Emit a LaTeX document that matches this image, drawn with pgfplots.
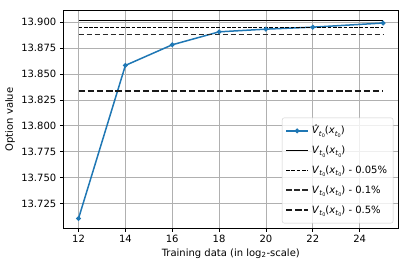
\documentclass[border=0pt]{standalone}
\usepackage{fontspec}
\setmainfont{DejaVu Sans}
\usepackage{pgfplots}
\pgfplotsset{compat=1.18}
\definecolor{mplblue}{HTML}{1F77B4}
\definecolor{gridgray}{HTML}{B0B0B0}
\definecolor{legframe}{HTML}{CCCCCC}
\definecolor{dashgray}{HTML}{2A2A2A}
\newcommand{\tsub}{\raisebox{-0.22em}{\fontsize{7}{7}\selectfont\textit{t}\raisebox{-0.18em}{\fontsize{4.9}{5}\selectfont 0}}}
\newcommand{\Vx}{\textit{V}\tsub(\textit{x}\tsub)}
\newcommand{\Vhx}{\textit{V\symbol{"0302}}\tsub(\textit{x}\tsub)}
\begin{document}
\begin{tikzpicture}
\begin{axis}[
  scale only axis, width=335pt, height=217.6pt,
  xmin=11.35, xmax=25.65, ymin=13.7011, ymax=13.9111,
  xtick={12,14,16,18,20,22,24},
  ytick={13.725,13.75,13.775,13.8,13.825,13.85,13.875,13.9},
  scaled y ticks=false,
  yticklabel style={/pgf/number format/.cd, fixed, fixed zerofill, precision=3},
  /pgf/number format/assume math mode=true,
  tick align=outside, major tick length=3.5pt,
  tick style={black, line width=0.8pt},
  xtick pos=left, ytick pos=left,
  axis line style={line width=0.8pt},
  grid=major, major grid style={gridgray, line width=0.8pt},
  every axis x label/.style={at={(rel axis cs:0.5,0)}, yshift=-25pt, anchor=center},
  every axis y label/.style={at={(rel axis cs:0,0.5)}, xshift=-53.3pt, rotate=90, anchor=center},
  xlabel={Training data (in log\textsubscript{2}-scale)},
  ylabel={Option value},
  legend image code/.code={\draw[mark repeat=2,mark phase=2,#1] plot coordinates {(0pt,0pt)(11pt,0pt)(22pt,0pt)};},
  legend style={at={(0.985,0.023)}, anchor=south east, draw=legframe, rounded corners=2pt,
    fill=white, fill opacity=0.8, text opacity=1, cells={anchor=west},
    nodes={inner xsep=3pt, inner ysep=2pt, text height=10pt, text depth=4pt}, row sep=1.8pt,
    inner xsep=3pt, inner ysep=4pt},
]
\addplot[mplblue, line width=1.5pt, mark=*, mark size=1.6pt] coordinates {
  (12,13.7106) (14,13.8583) (16,13.8782) (18,13.8907) (20,13.8933) (22,13.8952) (25,13.8992)};
\addlegendentry{\Vhx}
\addplot[black, line width=1pt] coordinates {(12,13.9017) (25,13.9017)};
\addlegendentry{\Vx}
\addplot[black, line width=1pt, dash pattern=on 3.7pt off 1.6pt] coordinates {(12,13.8952) (25,13.8952)};
\addlegendentry{\Vx{} - 0.05\%}
\addplot[dashgray, line width=1.8pt, dash pattern=on 5.6pt off 2.4pt] coordinates {(12,13.8881) (25,13.8881)};
\addlegendentry{\Vx{} - 0.1\%}
\addplot[black!90, line width=1.8pt, dash pattern=on 6.4pt off 2.8pt] coordinates {(12,13.8333) (25,13.8333)};
\addlegendentry{\Vx{} - 0.5\%}
\end{axis}
\pgfresetboundingbox
\path (current axis.south west) ++(-63.3pt,-41.7pt) coordinate (bbA);
\path (current axis.north east) ++(9.7pt,10.7pt) coordinate (bbB);
\useasboundingbox (bbA) rectangle (bbB);
\end{tikzpicture}
\end{document}
